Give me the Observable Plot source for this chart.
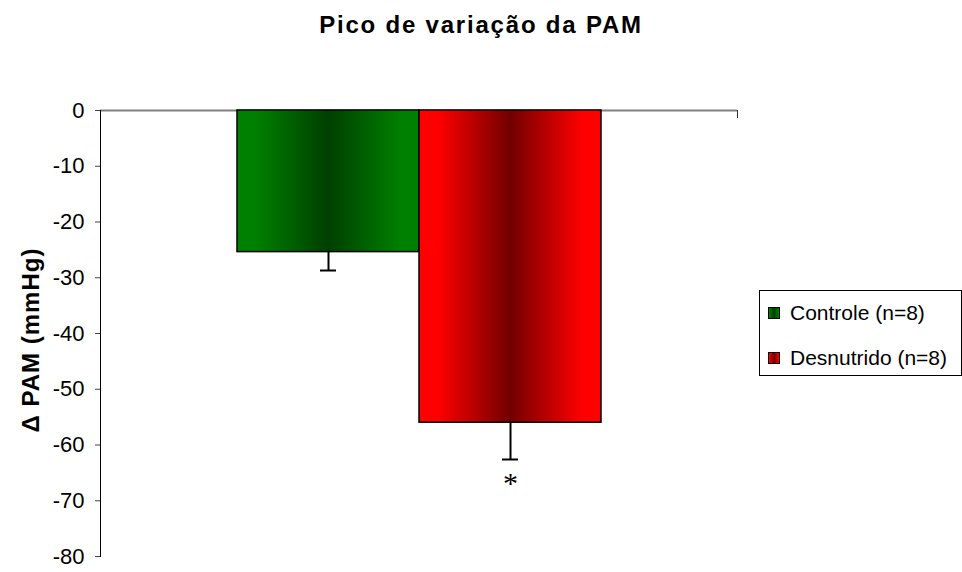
<!DOCTYPE html>
<html><head><meta charset="utf-8">
<script src="https://cdn.jsdelivr.net/npm/d3@7"></script>
<script src="https://cdn.jsdelivr.net/npm/@observablehq/plot@0.6"></script>
<style>
body{margin:0;background:#fff;}
#wrap{position:relative;width:962px;height:572px;font-family:"Liberation Sans",Arial,sans-serif;color:#000;}
#title{position:absolute;left:0;width:962px;top:13px;line-height:24px;text-align:center;font-weight:bold;font-size:24px;letter-spacing:1.8px;}
#ylabel{position:absolute;left:31px;top:340px;transform:translate(-50%,-50%) rotate(-90deg);white-space:nowrap;font-weight:bold;font-size:24px;letter-spacing:1px;line-height:24px;}
#legend{position:absolute;left:759px;top:290px;width:201px;height:84px;border:1px solid #000;box-sizing:content-box;}
.item{position:absolute;left:8px;height:24px;line-height:24px;font-size:21px;white-space:nowrap;}
.sw{display:inline-block;width:10px;height:10px;border:1px solid #000;margin-right:10px;vertical-align:middle;position:relative;top:-1px;}
#chart{position:absolute;left:0;top:0;}
</style></head>
<body>
<div id="wrap">
  <div id="chart"></div>
  <div id="title"></div>
  <div id="ylabel"></div>
  <div id="legend"></div>
</div>
<script>
const titleText = "Pico de variação da PAM";
const yLabelText = "Δ PAM (mmHg)";
const series = ["Controle (n=8)", "Desnutrido (n=8)"];
const values = [-25.4, -56.0];
const errors = [3.3, 6.6];
const marks = ["", "*"];
const edgeColors = ["#008000", "#ff0000"];
const centerColors = ["#003f00", "#720000"];
const yTicks = [0, -10, -20, -30, -40, -50, -60, -70, -80];

const data = series.map((s, i) => ({
  series: s, value: values[i], low: values[i] - errors[i], mark: marks[i], fill: `url(#grad${i})`
}));

const chart = Plot.plot({
  width: 962, height: 572,
  marginTop: 110, marginBottom: 16, marginLeft: 100, marginRight: 225,
  style: {fontFamily: "Liberation Sans, Arial, sans-serif", fontSize: "22px", background: "transparent", color: "#000"},
  x: {domain: series, paddingInner: 0, paddingOuter: 0.745, axis: null},
  y: {domain: [-80, 0]},
  color: {type: "identity"},
  marks: [
    Plot.ruleY([0], {stroke: "#808080", strokeWidth: 2}),
    Plot.barY(data, {x: "series", y1: 0, y2: "value", fill: "fill", stroke: "#000", strokeWidth: 1.5}),
    Plot.ruleX(data, {x: "series", y1: "value", y2: "low", stroke: "#000", strokeWidth: 2}),
    Plot.tickY(data, {x: "series", y: "low", stroke: "#000", strokeWidth: 2, insetLeft: 83, insetRight: 83}),
    Plot.text(data, {x: "series", y: "low", text: "mark", dy: 24, fontSize: 30, fontFamily: "Liberation Serif, serif"}),
    Plot.axisY(yTicks, {tickSize: 5, tickPadding: 11, tickFormat: d => String(d), label: null, stroke: "#444"}),
    Plot.frame({anchor: "left", stroke: "#000"}),
    Plot.frame({anchor: "right", stroke: "#333", insetBottom: 439})
  ]
});

const svg = d3.select(chart);
const defs = svg.insert("defs", ":first-child");
series.forEach((s, i) => {
  const g = defs.append("linearGradient").attr("id", "grad" + i)
    .attr("x1", "0").attr("x2", "1").attr("y1", "0").attr("y2", "0");
  [[0, edgeColors[i]], [0.1, edgeColors[i]], [0.5, centerColors[i]], [0.9, edgeColors[i]], [1, edgeColors[i]]]
    .forEach(([o, c]) => g.append("stop").attr("offset", o).attr("stop-color", c));
});
document.getElementById("chart").appendChild(chart);

document.getElementById("title").textContent = titleText;
document.getElementById("ylabel").textContent = yLabelText;

const legend = document.getElementById("legend");
series.forEach((s, i) => {
  const it = document.createElement("div");
  it.className = "item";
  it.style.top = (i === 0 ? 10 : 55) + "px";
  const sw = document.createElement("span");
  sw.className = "sw";
  sw.style.background = `linear-gradient(to right, ${edgeColors[i]}, ${centerColors[i]}, ${edgeColors[i]})`;
  it.appendChild(sw);
  it.appendChild(document.createTextNode(s));
  legend.appendChild(it);
});
</script>
</body></html>
